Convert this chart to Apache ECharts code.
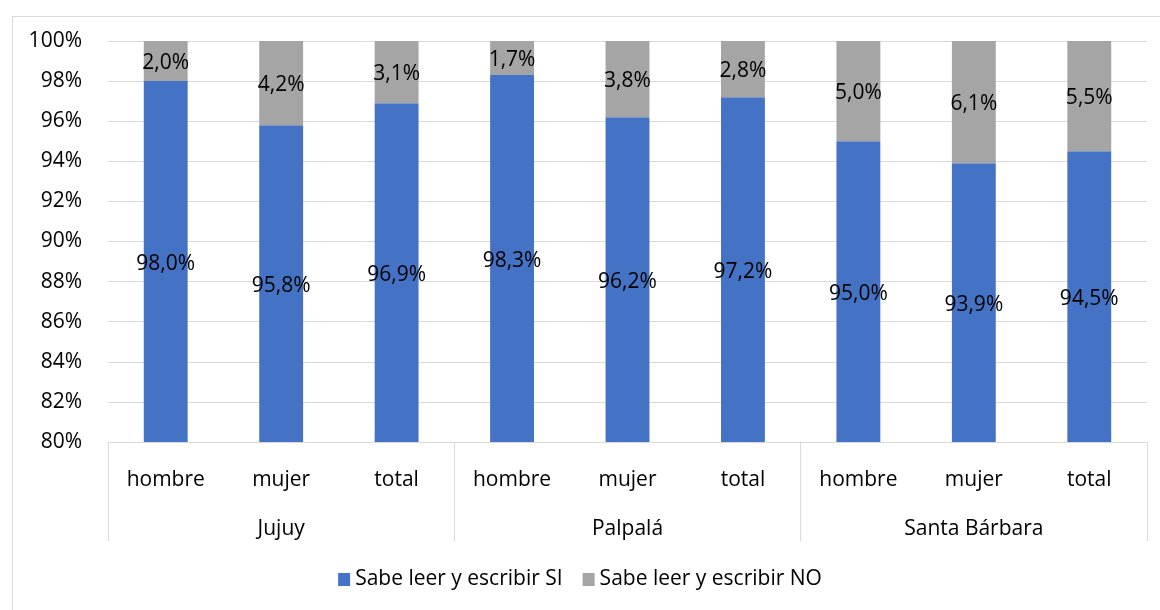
<!DOCTYPE html>
<html>
<head>
<meta charset="utf-8">
<script src="https://cdn.jsdelivr.net/npm/echarts@6/dist/echarts.min.js"></script>
<style>
html,body{margin:0;padding:0;background:#fff;}
#c{width:1160px;height:610px;}
</style>
</head>
<body>
<div id="c"></div>
<script>
const categories = ['hombre','mujer','total','hombre','mujer','total','hombre','mujer','total'];
const groups = ['Jujuy','Palpalá','Santa Bárbara'];
const seriesNames = ['Sabe leer y escribir SI','Sabe leer y escribir NO'];
const valuesSI = [98.0, 95.8, 96.9, 98.3, 96.2, 97.2, 95.0, 93.9, 94.5];
const valuesNO = [2.0, 4.2, 3.1, 1.7, 3.8, 2.8, 5.0, 6.1, 5.5];
const yTicks = [80, 82, 84, 86, 88, 90, 92, 94, 96, 98, 100];

const FONT = 'Open Sans';
const FS = 21;
const fmt = v => v.toFixed(1).replace('.', ',') + '%';

const chart = echarts.init(document.getElementById('c'), null, {renderer:'canvas'});
chart.setOption({
  animation: false,
  backgroundColor: '#fff',
  textStyle: {fontFamily: FONT},
  graphic: [{
    type: 'rect', left: 10, top: 14, z: -10,
    shape: {width: 1200, height: 650},
    style: {fill: 'none', stroke: '#d9d9d9', lineWidth: 1}
  }],
  grid: {left: 108, right: 13, top: 41, bottom: 168, containLabel: false},
  legend: {
    bottom: 15, left: 'center',
    itemWidth: 12, itemHeight: 13, itemGap: 20,
    icon: 'rect',
    textStyle: {fontFamily: FONT, fontSize: FS, color: '#000'},
    data: seriesNames
  },
  xAxis: [{
    type: 'category', data: categories, position: 'bottom',
    axisLine: {show: true, lineStyle: {color: '#d9d9d9', width: 1}},
    axisTick: {show: false},
    axisLabel: {margin: 28, fontFamily: FONT, fontSize: FS, color: '#000', interval: 0}
  }, {
    type: 'category', data: groups, position: 'bottom',
    axisLine: {show: false},
    axisTick: {show: true, length: 99, lineStyle: {color: '#d9d9d9', width: 1}},
    axisLabel: {margin: 77, fontFamily: FONT, fontSize: FS, color: '#000', interval: 0}
  }],
  yAxis: {
    type: 'value', min: 80, max: 100, interval: 2,
    axisLine: {show: false}, axisTick: {show: false},
    splitLine: {lineStyle: {color: '#d9d9d9', width: 1}},
    axisLabel: {fontFamily: FONT, fontSize: FS, color: '#000', margin: 26, formatter: v => v + '%'}
  },
  series: [{
    name: seriesNames[0], type: 'bar', stack: 'a', data: valuesSI,
    barWidth: '38%', itemStyle: {color: '#4472c4'},
    label: {show: true, position: 'inside', offset: [0, 2], fontFamily: FONT, fontSize: FS, color: '#000', formatter: p => fmt(p.value)}
  }, {
    name: seriesNames[1], type: 'bar', stack: 'a', data: valuesNO,
    barWidth: '38%', itemStyle: {color: '#a5a5a5'},
    label: {show: true, position: 'inside', offset: [0, 2], fontFamily: FONT, fontSize: FS, color: '#000', formatter: p => fmt(p.value)}
  }]
});
</script>
</body>
</html>
